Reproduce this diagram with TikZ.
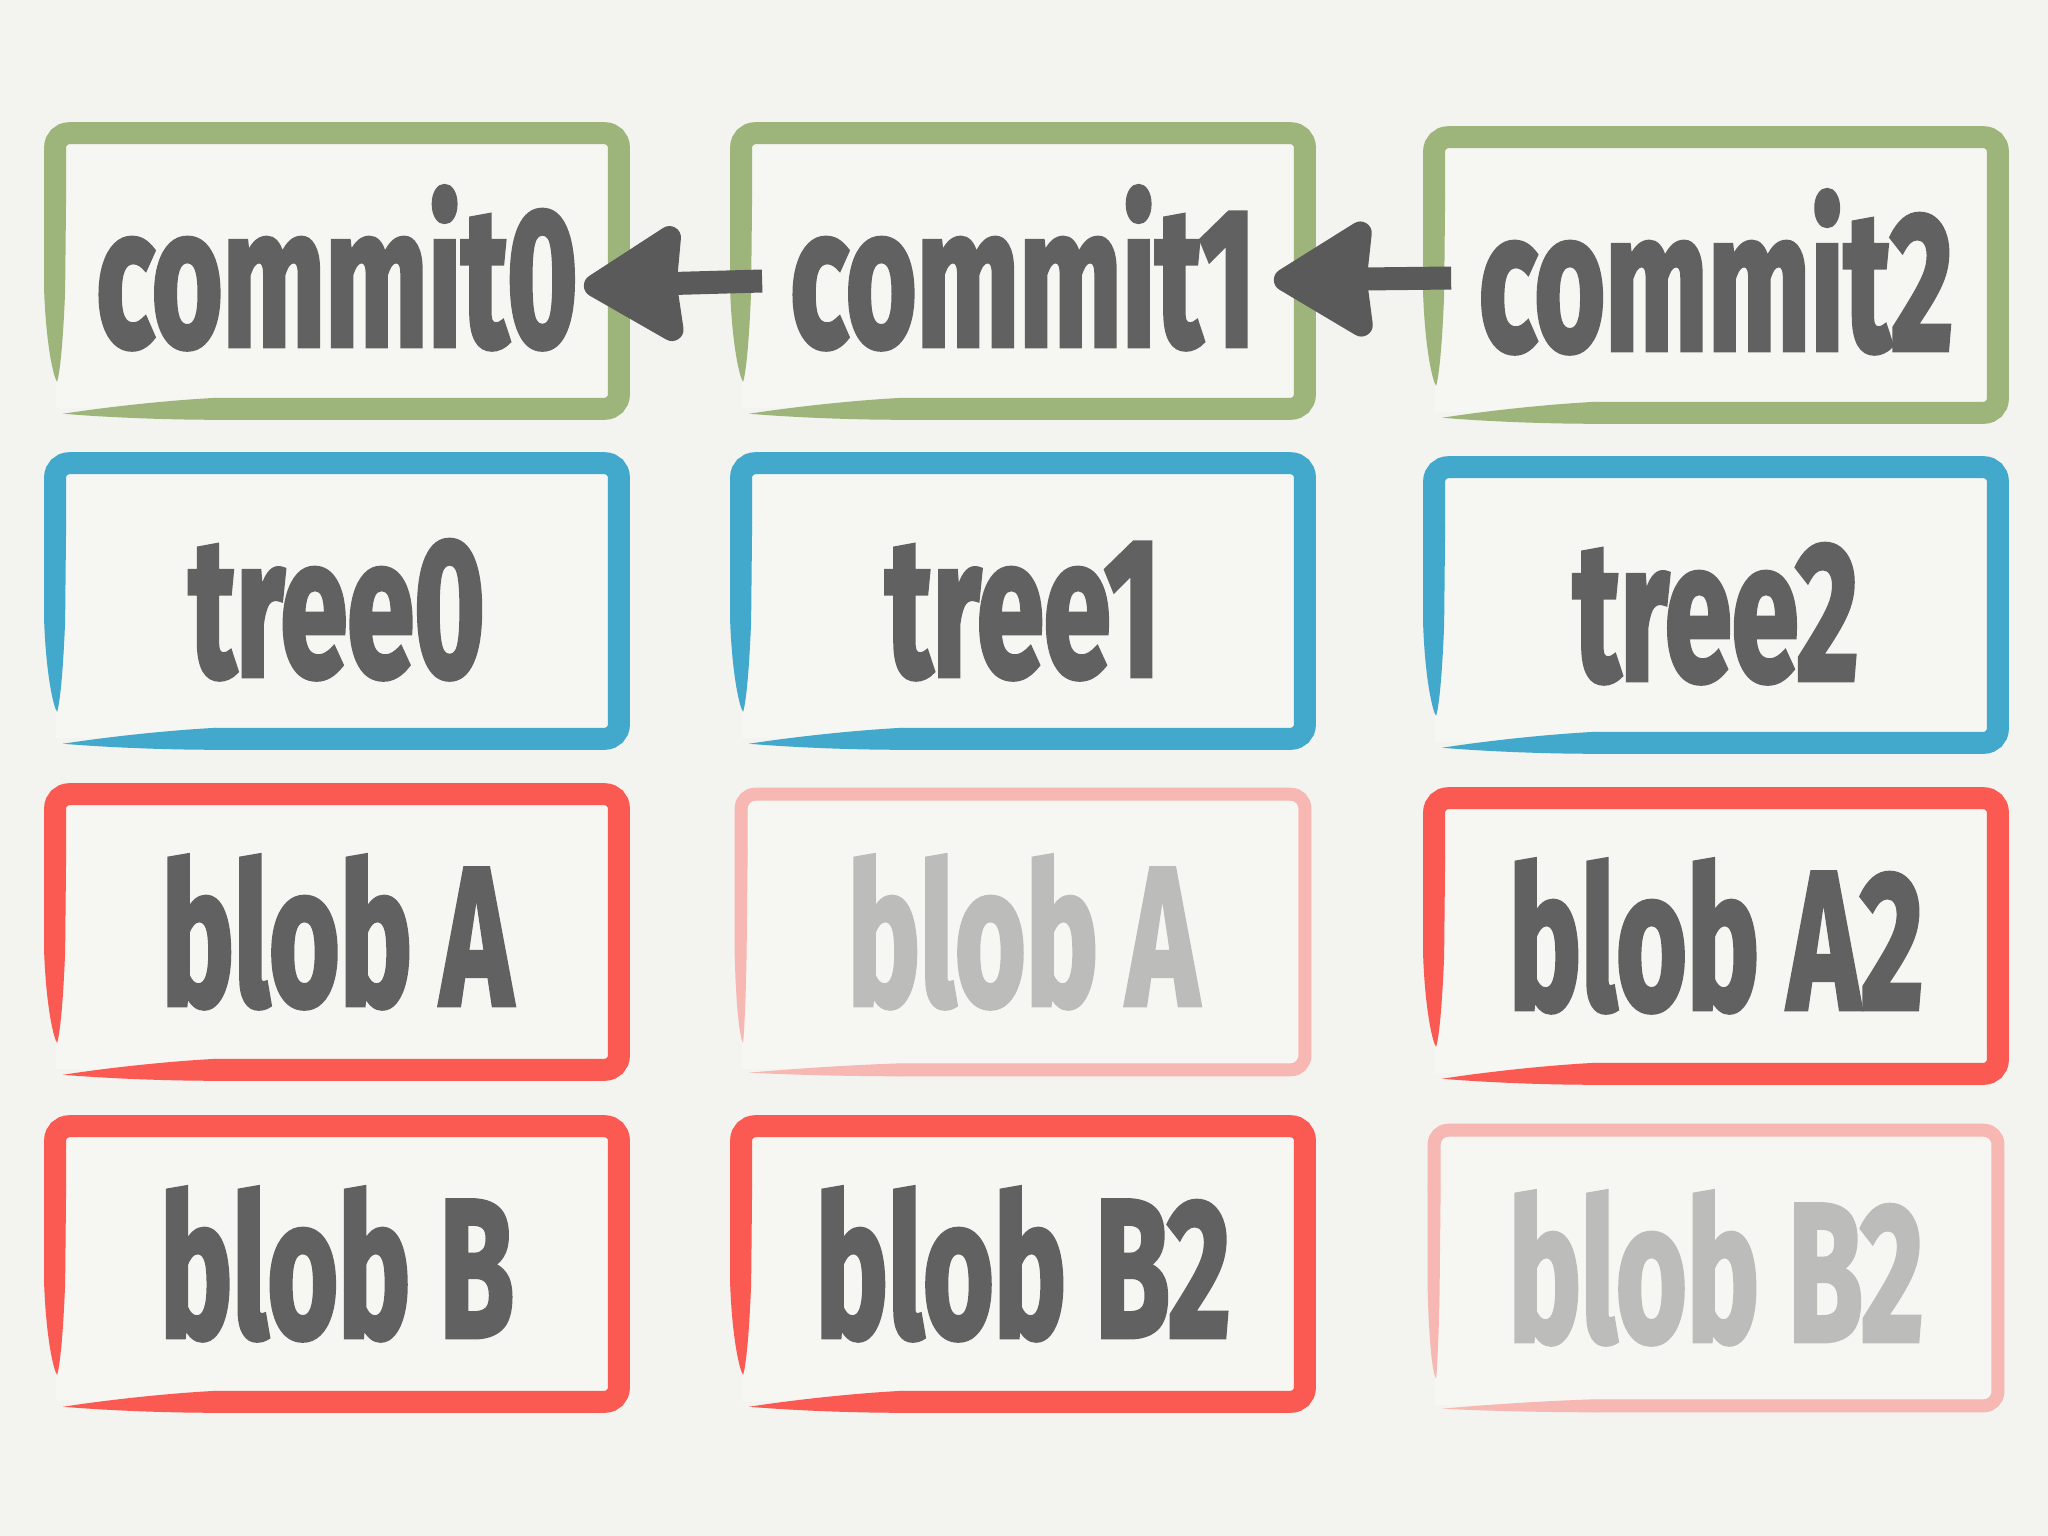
\documentclass[tikz,border=0pt]{standalone}
\usepackage{fontspec}
\usepackage{graphicx}
\newfontfamily\lblfont{Fira Sans}[UprightFont=* Bold, FakeBold=2.5, LetterSpace=-0.5]
\def\lblsq{0.62}
\newcommand\sq[1]{\scalebox{\lblsq}[1]{#1}}
\usetikzlibrary{arrows.meta,calc}
\definecolor{bg}{HTML}{F3F3EF}
\definecolor{boxbg}{HTML}{F6F6F2}
\definecolor{cgreen}{HTML}{9DB57A}
\definecolor{cblue}{HTML}{42A8CC}
\definecolor{cred}{HTML}{FA5A52}
\definecolor{cfade}{HTML}{F7B7B2}
\definecolor{txt}{HTML}{616161}
\definecolor{txtfade}{HTML}{BCBCBA}
\definecolor{arrowc}{HTML}{5A5A5A}
\tikzset{
  boxnode/.style={minimum width=5.62cm, minimum height=2.74cm, inner sep=0pt, draw=none, fill=boxbg},
  lbl/.style={anchor=base, inner sep=0pt, text=txt, font=\lblfont\fontsize{56}{60}\selectfont},
  lblfade/.style={lbl, text=txtfade},
  link/.style={draw=arrowc, line width=0.23cm, line cap=butt,
    -{Stealth[length=1.1cm,width=1.3cm,inset=0.06cm,round]}}
}
% #1 half stroke width (px), #2 node, #3 colour
\newcommand\brushbox[3]{%
  \draw[line width=2*#1*0.01cm, draw=#3, rounded corners=0.14cm, line cap=butt]
    ($(#2.north west)+(0,60)$) -- (#2.north west) -- (#2.north east)
    -- (#2.south east) -- ($(#2.south west)+(160,0)$);
  \fill[#3] ($(#2.north west)+(-#1,59)$) -- ($(#2.north west)+(#1,59)$)
    -- ($(#2.west)+(#1-1,20)$)
    .. controls ($(#2.south west)+(0.7*#1,-60)$) and ($(#2.south west)+(0.4*#1,-35)$) .. ($(#2.south west)+(2,-27)$)
    .. controls ($(#2.south west)+(-1,-30)$) and ($(#2.south west)+(-0.8*#1,-60)$) .. ($(#2.west)+(-#1,20)$) -- cycle;
  \fill[#3] ($(#2.south west)+(161,-#1)$) -- ($(#2.south west)+(161,#1)$)
    .. controls ($(#2.south west)+(100,#1)$) and ($(#2.south west)+(40,0.7*#1)$) .. ($(#2.south west)+(8,0.45*#1)$)
    .. controls ($(#2.south west)+(40,0)$) and ($(#2.south west)+(100,-0.7*#1)$) .. cycle;
}
\begin{document}
\begin{tikzpicture}[x=0.01cm,y=-0.01cm]
\fill[bg] (0,0) rectangle (2048,1536);
\useasboundingbox (0,0) rectangle (2048,1536);

% box areas
\node[boxnode] (c0box) at (337,271) {};
\node[boxnode] (c1box) at (1023,271) {};
\node[boxnode] (c2box) at (1716,275) {};
\node[boxnode] (t0box) at (337,601) {};
\node[boxnode] (t1box) at (1023,601) {};
\node[boxnode] (t2box) at (1716,605) {};
\node[boxnode] (a0box) at (337,932) {};
\node[boxnode] (a1box) at (1023,932) {};
\node[boxnode] (a2box) at (1716,936) {};
\node[boxnode] (b0box) at (337,1264) {};
\node[boxnode] (b1box) at (1023,1264) {};
\node[boxnode] (b2box) at (1716,1268) {};

% borders
\brushbox{11}{c0box}{cgreen}
\brushbox{11}{c1box}{cgreen}
\brushbox{11}{c2box}{cgreen}
\brushbox{11}{t0box}{cblue}
\brushbox{11}{t1box}{cblue}
\brushbox{11}{t2box}{cblue}
\brushbox{11}{a0box}{cred}
\brushbox{6.5}{a1box}{cfade}
\brushbox{11}{a2box}{cred}
\brushbox{11}{b0box}{cred}
\brushbox{11}{b1box}{cred}
\brushbox{6.5}{b2box}{cfade}

% labels
\node[lbl] (c0) at ($(c0box.center)+(0,75)$) {\sq{commit0}};
\node[lbl] (c1) at ($(c1box.center)+(0,75)$) {\sq{commit1}};
\node[lbl] (c2) at ($(c2box.center)+(0,75)$) {\sq{commit2}};
\node[lbl] (t0) at ($(t0box.center)+(0,75)$) {\sq{tree0}};
\node[lbl] (t1) at ($(t1box.center)+(0,75)$) {\sq{tree1}};
\node[lbl] (t2) at ($(t2box.center)+(0,75)$) {\sq{tree2}};
\node[lbl] (a0) at ($(a0box.center)+(0,73)$) {\sq{blob A}};
\node[lblfade] (a1) at ($(a1box.center)+(0,73)$) {\sq{blob A}};
\node[lbl] (a2) at ($(a2box.center)+(0,73)$) {\sq{blob A2}};
\node[lbl] (b0) at ($(b0box.center)+(0,73)$) {\sq{blob B}};
\node[lbl] (b1) at ($(b1box.center)+(0,73)$) {\sq{blob B2}};
\node[lblfade] (b2) at ($(b2box.center)+(0,73)$) {\sq{blob B2}};

% arrows
\draw[link] ($(c1box.west)+(21,10)$) -- ($(c0box.east)+(-35,15)$);
\draw[link] ($(c2box.west)+(17,3)$) -- ($(c1box.east)+(-31,9)$);
\end{tikzpicture}
\end{document}
